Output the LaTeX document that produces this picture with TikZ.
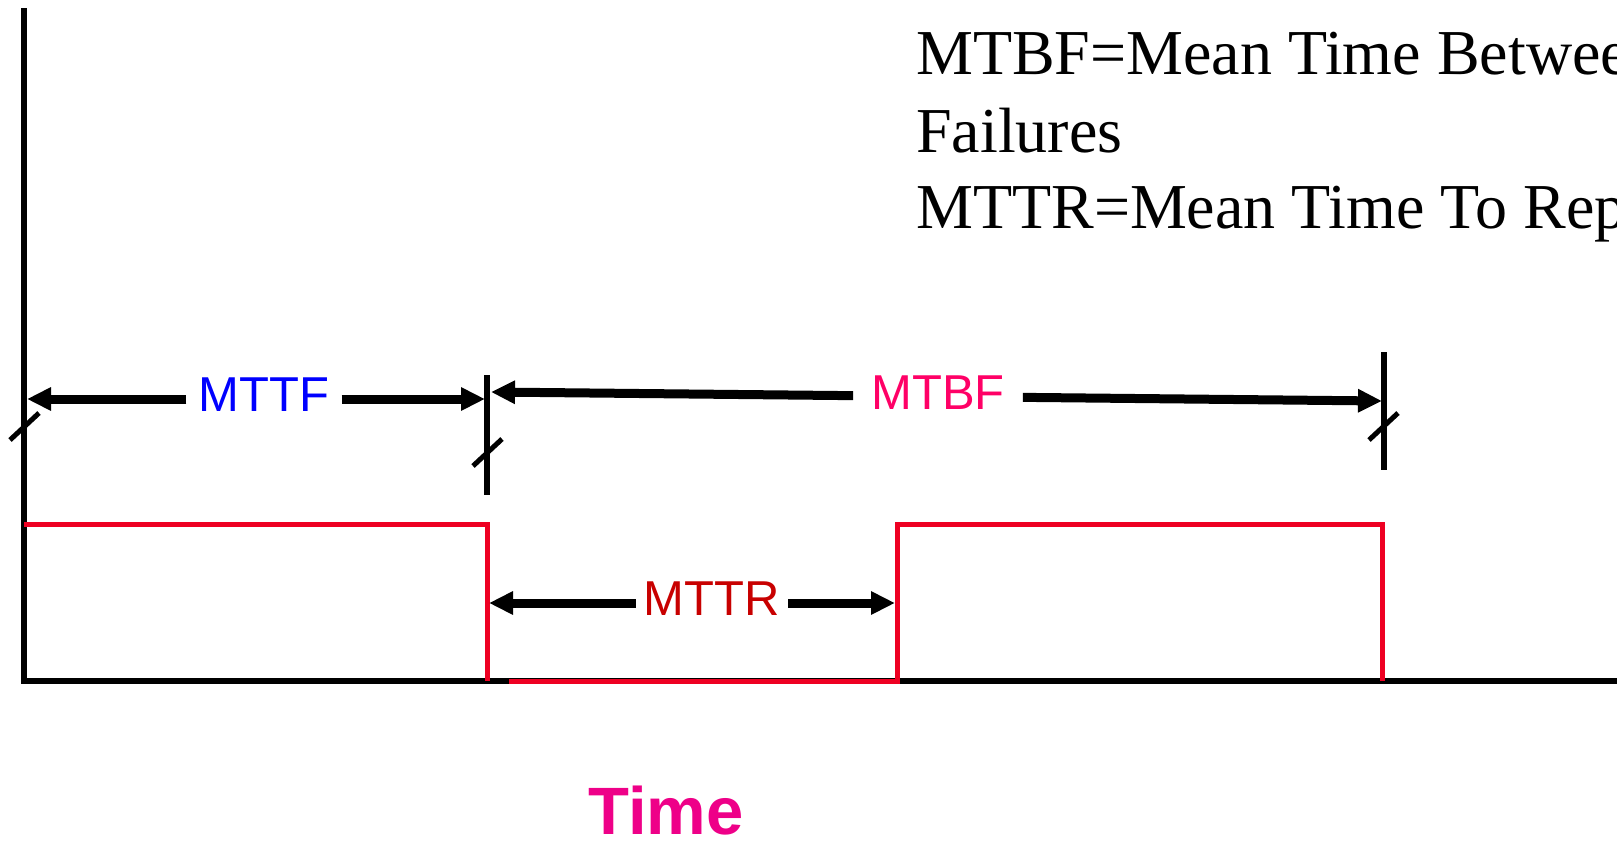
\documentclass[tikz,border=0pt]{standalone}
\usepackage{fontspec}
\setmainfont{Liberation Serif}
\newfontfamily\labelfont{Liberation Sans}
\usetikzlibrary{arrows.meta}
\definecolor{mttfblue}{HTML}{0000FF}
\definecolor{mtbfpink}{HTML}{FF0066}
\definecolor{mttrred}{HTML}{C80000}
\definecolor{wavered}{HTML}{EE0022}
\definecolor{timepink}{HTML}{EE0088}
\tikzset{%
	axis/.style      	= {line width = 6pt}, % Time axes
	wave/.style      	= {draw = wavered, line width = 5pt, line join = miter}, % Up/down signal
	tickline/.style  	= {line width = 6pt},
	slash/.style     	= {line width = 5pt},
	span/.style      	= {line width = 9pt, ->},
	spanlabel/.style 	= {font = \labelfont\fontsize{49}{49}\selectfont, inner xsep = 12pt, inner ysep = 0pt, text depth = 8pt},
	legend/.style    	= {anchor = base west, inner sep = 0pt, font = \fontsize{64}{64}\selectfont},
	point/.style     	= {coordinate}
}

\begin{document}
\begin{tikzpicture}[x = 1pt, y = -1pt, >={Triangle[length = 24pt, width = 22pt]}]
	\clip (0, 0) rectangle (1617, 841);

	% Drawing the axes
	\draw
	node at (24, 8) [point] (ytop) {}
	node at (24, 681) [point] (origin) {}
	node at (1625, 681) [point] (xend) {}
	;
	\draw[axis] (ytop) -- (origin) -- (xend);

	% Drawing the signal
	\draw[wave] (24, 524) -- (487, 524) -- (487, 681);
	\draw[wave] (509, 681) -- (897, 681) -- (897, 524) -- (1382, 524) -- (1382, 681);

	% Drawing the tick marks
	\draw[tickline] (487, 375) -- (487, 495);
	\draw[tickline] (1384, 352) -- (1384, 470);
	\draw[slash] (10, 440) -- (39, 413);
	\draw[slash] (473, 466) -- (502, 439);
	\draw[slash] (1369, 440) -- (1398, 413);

	% Drawing the spans and their labels
	\draw
	node at (27, 399) [point] (mttf-l) {}
	node at (485, 399) [point] (mttf-r) {}
	node at (491, 392) [point] (mtbf-l) {}
	node at (1382, 401) [point] (mtbf-r) {}
	node at (489, 603) [point] (mttr-l) {}
	node at (895, 603) [point] (mttr-r) {}
	node at (264, 399) [spanlabel, text = mttfblue] (mttf) {MTTF}
	node at (938, 396.5) [spanlabel, text = mtbfpink, inner xsep = 18pt] (mtbf) {MTBF}
	node at (712, 603) [spanlabel, text = mttrred, inner xsep = 8pt] (mttr) {MTTR}
	;
	\draw[span] (mttf) -- (mttf-l);
	\draw[span] (mttf) -- (mttf-r);
	\draw[span] (mtbf) -- (mtbf-l);
	\draw[span] (mtbf) -- (mtbf-r);
	\draw[span] (mttr) -- (mttr-l);
	\draw[span] (mttr) -- (mttr-r);

	% Definitions and axis title
	\node[legend] (def1) at (916, 74) {MTBF=Mean Time Between};
	\node[legend] (def2) at (916, 152) {Failures};
	\node[legend] (def3) at (916, 228) {MTTR=Mean Time To Repair};
	\node[anchor = base, inner sep = 0pt, text = timepink, font = \labelfont\bfseries\fontsize{67}{67}\selectfont] (time) at (666, 834) {Time};
\end{tikzpicture}
\end{document}
